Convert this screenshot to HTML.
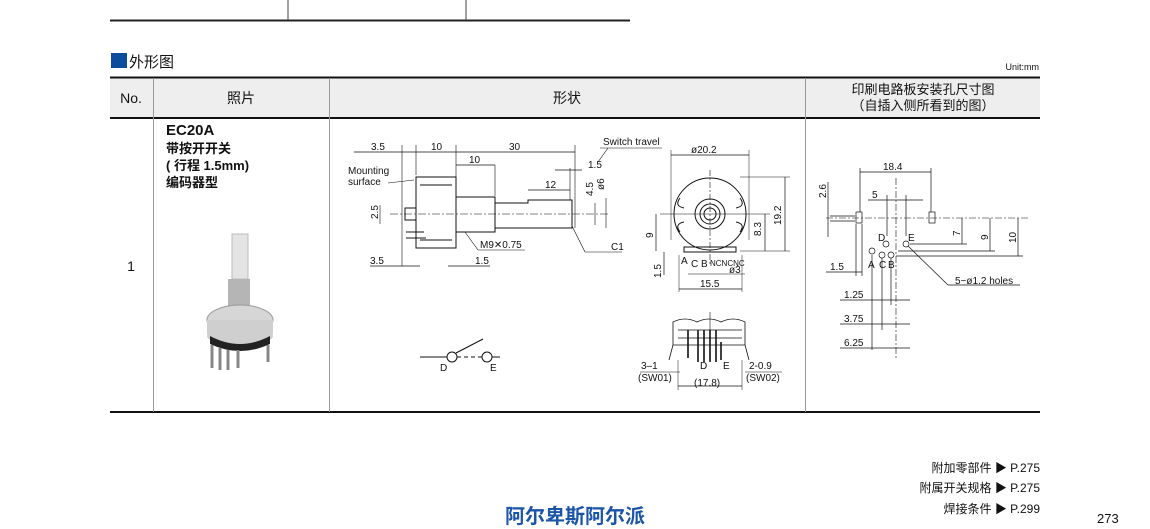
<!DOCTYPE html>
<html><head><meta charset="utf-8"><style>
body{margin:0;background:#fff;}
svg{display:block;font-family:"Liberation Sans","Noto Sans CJK SC",sans-serif;}
.t{font-size:10px;fill:#111}
</style></head><body>
<svg width="1150" height="529" viewBox="0 0 1150 529" xmlns="http://www.w3.org/2000/svg">
<line x1="110" y1="20.5" x2="630" y2="20.5" stroke="#222" stroke-width="2"/>
<line x1="288" y1="0" x2="288" y2="20" stroke="#444"/>
<line x1="466" y1="0" x2="466" y2="20" stroke="#444"/>
<rect x="111" y="53" width="16" height="15" fill="#0b4d9c"/>
<text x="129" y="67" font-size="15" fill="#111">外形图</text>
<text x="1039" y="70" font-size="9" fill="#111" text-anchor="end">Unit:mm</text>
<rect x="110" y="78" width="930" height="40" fill="#eeeeee"/>
<line x1="110" y1="77.5" x2="1040" y2="77.5" stroke="#111" stroke-width="2"/>
<line x1="110" y1="118" x2="1040" y2="118" stroke="#111" stroke-width="2"/>
<line x1="110" y1="412" x2="1040" y2="412" stroke="#111" stroke-width="2"/>
<g stroke="#999" stroke-width="1">
<line x1="153.5" y1="78" x2="153.5" y2="412"/>
<line x1="329.5" y1="78" x2="329.5" y2="412"/>
<line x1="805.5" y1="78" x2="805.5" y2="412"/>
</g>
<g font-size="14" fill="#111" text-anchor="middle">
<text x="131" y="103">No.</text>
<text x="241" y="103">照片</text>
<text x="567" y="103">形状</text>
<text x="923" y="94" font-size="13">印刷电路板安装孔尺寸图</text>
<text x="923" y="110" font-size="13">（自插入侧所看到的图）</text>
<text x="131" y="271">1</text>
</g>
<g fill="#111" font-weight="bold">
<text x="166" y="135" font-size="15">EC20A</text>
<text x="166" y="153" font-size="13">带按开开关</text>
<text x="166" y="170" font-size="13">( 行程 1.5mm)</text>
<text x="166" y="187" font-size="13">编码器型</text>
</g>
<!-- photo -->
<g>
<rect x="232" y="234" width="16" height="45" fill="#e4e4e4" stroke="#bbb"/>
<rect x="228" y="279" width="22" height="40" fill="#b5b5b5"/>
<ellipse cx="240" cy="320" rx="33" ry="15" fill="#d6d6d6" stroke="#999"/>
<rect x="207" y="320" width="66" height="14" fill="#cfcfcf"/>
<ellipse cx="240" cy="336" rx="33" ry="9" fill="#cfcfcf"/>
<path d="M210 336 q30 16 60 0 v8 q-30 14 -60 0 Z" fill="#222"/>
<g stroke="#888" stroke-width="3"><line x1="212" y1="345" x2="212" y2="368"/><line x1="220" y1="348" x2="220" y2="370"/><line x1="228" y1="350" x2="228" y2="370"/><line x1="238" y1="350" x2="238" y2="368"/><line x1="268" y1="345" x2="268" y2="362"/></g>
</g>
<g stroke="#111" stroke-width="1" fill="none">
<line x1="354" y1="152" x2="575" y2="152" stroke-width="0.7"/>
<line x1="402" y1="145" x2="402" y2="266" stroke-width="0.6"/>
<line x1="416" y1="145" x2="416" y2="175" stroke-width="0.6"/>
<line x1="456" y1="145" x2="456" y2="196" stroke-width="0.6"/>
<line x1="575" y1="145" x2="575" y2="228" stroke-width="0.6"/>
<line x1="456" y1="165" x2="495" y2="165" stroke-width="0.7"/>
<line x1="495" y1="165" x2="495" y2="196" stroke-width="0.6"/>
<line x1="528" y1="190" x2="570" y2="190" stroke-width="0.7"/>
<line x1="555" y1="170" x2="582" y2="170" stroke-width="0.7"/>
<line x1="570" y1="168" x2="570" y2="200" stroke-width="0.6"/>
<path d="M416 177 H456 V248 H416 Z"/>
<path d="M420 185 H452 M420 240 H452"/>
<path d="M456 197 H495 V232 H456 Z"/>
<path d="M495 203 H528 V200 H572 V228 H495 Z"/>
<path d="M405 208 H416 V220 H405 Z"/>
<path d="M406 232 H424 M406 238 H426" />
<line x1="390" y1="214" x2="610" y2="214" stroke-dasharray="8 2 2 2" stroke-width="0.6"/>
<line x1="595" y1="203" x2="595" y2="225" stroke-width="0.6"/>
<line x1="606" y1="198" x2="606" y2="228" stroke-width="0.6"/>
<line x1="380" y1="205" x2="380" y2="224" stroke-width="0.6"/>
<line x1="465" y1="232" x2="478" y2="250" stroke-width="0.6"/>
<line x1="478" y1="250" x2="525" y2="250" stroke-width="0.6"/>
<line x1="572" y1="226" x2="585" y2="252" stroke-width="0.6"/>
<line x1="585" y1="252" x2="622" y2="252" stroke-width="0.6"/>
<line x1="370" y1="266" x2="420" y2="266" stroke-width="0.7"/>
<line x1="448" y1="266" x2="490" y2="266" stroke-width="0.7"/>
<line x1="388" y1="183" x2="414" y2="180" stroke-width="0.6"/>
<line x1="600" y1="148" x2="662" y2="148" stroke-width="0.6"/>
<line x1="608" y1="148" x2="598" y2="162" stroke-width="0.6"/>
</g>
<g class="t">
<text x="371" y="150">3.5</text><text x="431" y="150">10</text><text x="509" y="150">30</text>
<text x="469" y="163">10</text><text x="545" y="188">12</text><text x="588" y="168">1.5</text>
<text x="348" y="174">Mounting</text><text x="348" y="185">surface</text>
<text x="480" y="248">M9✕0.75</text><text x="611" y="250">C1</text>
<text x="370" y="264">3.5</text><text x="475" y="264">1.5</text>
<text x="603" y="145">Switch travel</text>
<text transform="translate(378,219) rotate(-90)">2.5</text>
<text transform="translate(593,196) rotate(-90)">4.5</text>
<text transform="translate(604,190) rotate(-90)">ø6</text>
</g>
<g stroke="#111" fill="none" stroke-width="1">
<line x1="671" y1="155" x2="749" y2="155" stroke-width="0.7"/>
<line x1="671" y1="150" x2="671" y2="240" stroke-width="0.5"/>
<line x1="749" y1="150" x2="749" y2="240" stroke-width="0.5"/>
<circle cx="710" cy="214" r="36"/>
<circle cx="710" cy="214" r="15"/>
<circle cx="710" cy="214" r="10"/>
<circle cx="710" cy="214" r="6"/>
<path d="M680 198 q-6 8 4 10 M740 198 q6 8 -4 10 M680 232 q-6 -8 4 -10 M740 232 q6 -8 -4 -10"/>
<path d="M684 247 H736 V252 H684 Z"/>
<line x1="710" y1="170" x2="710" y2="265" stroke-dasharray="6 2 2 2" stroke-width="0.6"/>
<line x1="740" y1="177" x2="790" y2="177" stroke-width="0.5"/>
<line x1="740" y1="251" x2="790" y2="251" stroke-width="0.5"/>
<line x1="785" y1="177" x2="785" y2="251" stroke-width="0.7"/>
<line x1="765" y1="214" x2="765" y2="251" stroke-width="0.7"/>
<line x1="660" y1="214" x2="770" y2="214" stroke-width="0.5"/>
<line x1="656" y1="214" x2="656" y2="251" stroke-width="0.7"/>
<line x1="664" y1="252" x2="664" y2="275" stroke-width="0.7"/>
<line x1="679" y1="255" x2="679" y2="292" stroke-width="0.5"/>
<line x1="742" y1="255" x2="742" y2="292" stroke-width="0.5"/>
<line x1="679" y1="289" x2="742" y2="289" stroke-width="0.7"/>
<line x1="688" y1="274" x2="745" y2="274" stroke-width="0.6"/>
</g>
<g class="t">
<text x="691" y="153">ø20.2</text>
<text transform="translate(781,225) rotate(-90)">19.2</text>
<text transform="translate(761,236) rotate(-90)">8.3</text>
<text transform="translate(653,238) rotate(-90)">9</text>
<text transform="translate(661,278) rotate(-90)">1.5</text>
<text x="681" y="264">A</text><text x="691" y="267">C</text><text x="701" y="267">B</text>
<text x="710" y="266" font-size="8">NCNCNC</text>
<text x="729" y="273">ø3</text><text x="700" y="287">15.5</text>
</g>
<g stroke="#111" fill="none" stroke-width="0.8">
<path d="M673 345 V322 q12 -6 24 0 q12 -6 24 0 q12 -6 24 0 V345 Z"/>
<path d="M678 330 H742 M678 338 H742"/>
<line x1="710" y1="312" x2="710" y2="360" stroke-width="0.6"/>
<g stroke-width="1.6"><line x1="688" y1="330" x2="688" y2="358"/><line x1="698" y1="330" x2="698" y2="362"/><line x1="704" y1="330" x2="704" y2="362"/><line x1="710" y1="330" x2="710" y2="362"/><line x1="716" y1="330" x2="716" y2="362"/><line x1="721" y1="342" x2="721" y2="360"/></g>
<path d="M673 345 l-4 15 M745 345 l4 15"/>
<line x1="640" y1="372" x2="680" y2="372" stroke-width="0.6"/>
<line x1="745" y1="372" x2="782" y2="372" stroke-width="0.6"/>
<line x1="678" y1="386" x2="742" y2="386" stroke-width="0.7"/>
<line x1="678" y1="360" x2="678" y2="390" stroke-width="0.5"/>
<line x1="742" y1="360" x2="742" y2="390" stroke-width="0.5"/>
</g>
<g class="t">
<text x="641" y="369">3–1</text><text x="638" y="381">(SW01)</text>
<text x="700" y="369">D</text><text x="723" y="369">E</text>
<text x="749" y="369">2-0.9</text><text x="746" y="381">(SW02)</text>
<text x="694" y="386">(17.8)</text>
</g>
<g stroke="#111" fill="none" stroke-width="1">
<line x1="420" y1="357" x2="447" y2="357"/>
<circle cx="452" cy="357" r="5" fill="#fff"/>
<line x1="457" y1="357" x2="482" y2="357" stroke-dasharray="4 3"/>
<circle cx="487" cy="357" r="5" fill="#fff"/>
<line x1="492" y1="357" x2="500" y2="357"/>
<line x1="456" y1="353" x2="483" y2="339"/>
</g>
<g class="t"><text x="440" y="371">D</text><text x="490" y="371">E</text></g>
<g stroke="#111" fill="none" stroke-width="0.7">
<line x1="896" y1="178" x2="896" y2="360" stroke-dasharray="7 2 2 2" stroke-width="0.6"/>
<line x1="826" y1="218" x2="1030" y2="218" stroke-dasharray="7 2 2 2" stroke-width="0.6"/>
<line x1="830" y1="216" x2="855" y2="216"/><line x1="830" y1="221" x2="855" y2="221"/>
<rect x="856" y="212" width="6" height="11"/>
<rect x="929" y="212" width="6" height="11"/>
<line x1="860" y1="172" x2="931" y2="172"/>
<line x1="860" y1="168" x2="860" y2="212"/><line x1="931" y1="168" x2="931" y2="212"/>
<line x1="868" y1="200" x2="923" y2="200"/>
<line x1="887" y1="195" x2="887" y2="236"/><line x1="906" y1="195" x2="906" y2="236"/>
<line x1="828" y1="182" x2="828" y2="237"/>
<circle cx="886" cy="244" r="3"/><circle cx="906" cy="244" r="3"/>
<circle cx="872" cy="251" r="3"/><circle cx="882" cy="255" r="3"/><circle cx="891" cy="255" r="3"/>
<line x1="910" y1="244" x2="967" y2="244"/>
<line x1="898" y1="251" x2="995" y2="251"/>
<line x1="896" y1="256" x2="1023" y2="256"/>
<line x1="962" y1="218" x2="962" y2="244"/>
<line x1="990" y1="218" x2="990" y2="251"/>
<line x1="1018" y1="218" x2="1018" y2="256"/>
<line x1="908" y1="246" x2="948" y2="285"/><line x1="948" y1="285" x2="1020" y2="285"/>
<line x1="826" y1="272" x2="862" y2="272"/>
<line x1="856" y1="224" x2="856" y2="276"/><line x1="862" y1="224" x2="862" y2="276"/>
<line x1="872" y1="255" x2="872" y2="350"/>
<line x1="882" y1="258" x2="882" y2="330"/>
<line x1="891" y1="258" x2="891" y2="305"/>
<line x1="840" y1="300" x2="910" y2="300"/>
<line x1="840" y1="324" x2="910" y2="324"/>
<line x1="840" y1="348" x2="910" y2="348"/>
</g>
<g class="t">
<text x="883" y="170">18.4</text><text x="872" y="198">5</text>
<text transform="translate(826,198) rotate(-90)">2.6</text>
<text x="878" y="241">D</text><text x="908" y="241">E</text>
<text x="868" y="268">A</text><text x="879" y="268">C</text><text x="888" y="268">B</text>
<text transform="translate(960,236) rotate(-90)">7</text>
<text transform="translate(988,240) rotate(-90)">9</text>
<text transform="translate(1016,243) rotate(-90)">10</text>
<text x="955" y="284">5−ø1.2 holes</text>
<text x="830" y="270">1.5</text>
<text x="844" y="298">1.25</text><text x="844" y="322">3.75</text><text x="844" y="346">6.25</text>
</g>
<g font-size="12" fill="#111" text-anchor="end">
<text x="1040" y="472">附加零部件 ▶ P.275</text>
<text x="1040" y="492">附属开关规格 ▶ P.275</text>
<text x="1040" y="513">焊接条件 ▶ P.299</text>
</g>
<text x="575" y="523" font-size="20" font-weight="bold" fill="#1a55a8" text-anchor="middle">阿尔卑斯阿尔派</text>
<text x="1097" y="523" font-size="13" fill="#111">273</text>
</svg>
</body></html>
